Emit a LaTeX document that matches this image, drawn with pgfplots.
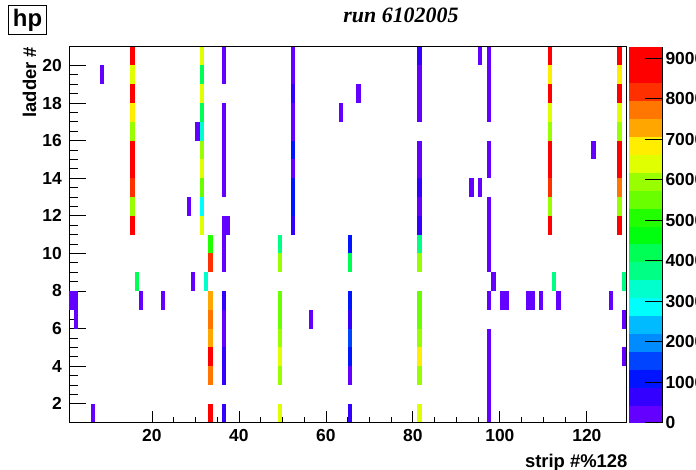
\documentclass[border=0pt]{standalone}
\usepackage{pgfplots}
\pgfplotsset{compat=1.18}
\usepackage{fontspec}
\setmainfont{Liberation Sans}
\newfontfamily\timesf{Liberation Serif}
\pgfdeclareplotmark{cell}{%
  \pgfpathrectanglecorners{\pgfplotspointaxisdirectionxy{-0.5}{-0.5}}{\pgfplotspointaxisdirectionxy{0.5}{0.5}}%
  \pgfusepathqfill}
\pgfplotsset{colormap={rootpretty}{
  rgb255=(99,0,255) rgb255=(51,0,255) rgb255=(0,20,255) rgb255=(0,68,255)
  rgb255=(0,139,255) rgb255=(0,187,255) rgb255=(0,255,252) rgb255=(0,255,204)
  rgb255=(0,255,133) rgb255=(0,255,85) rgb255=(0,255,14) rgb255=(34,255,0)
  rgb255=(105,255,0) rgb255=(153,255,0) rgb255=(224,255,0) rgb255=(255,238,0)
  rgb255=(255,167,0) rgb255=(255,119,0) rgb255=(255,48,0) rgb255=(255,0,0)
  rgb255=(255,0,0)}}
\pgfplotstableread{
x y z
15.5 20.5 9048
15.5 19.5 6264
15.5 18.5 9048
15.5 17.5 6728
15.5 16.5 5800
15.5 15.5 8584
15.5 14.5 9048
15.5 13.5 8120
15.5 12.5 5800
15.5 11.5 9048
31.5 20.5 6264
31.5 19.5 4408
31.5 18.5 6264
31.5 17.5 4408
31.5 16.5 3480
31.5 15.5 5800
31.5 14.5 6264
31.5 13.5 5336
31.5 12.5 3016
31.5 11.5 6264
111.5 20.5 9048
111.5 19.5 6728
111.5 18.5 9048
111.5 17.5 6264
111.5 16.5 5800
111.5 15.5 8584
111.5 14.5 9048
111.5 13.5 8120
111.5 12.5 5800
111.5 11.5 9048
127.5 20.5 9048
127.5 19.5 6728
127.5 18.5 9048
127.5 17.5 6264
127.5 16.5 5800
127.5 15.5 8584
127.5 14.5 9048
127.5 13.5 7656
127.5 12.5 5800
127.5 11.5 9048
33.5 10.5 4872
33.5 9.5 8120
33.5 7.5 7192
33.5 6.5 7656
33.5 5.5 7192
33.5 4.5 9048
33.5 3.5 7656
33.5 1.5 9048
49.5 10.5 3944
49.5 9.5 5800
49.5 7.5 5336
49.5 6.5 5336
49.5 5.5 5800
49.5 4.5 6264
49.5 3.5 5800
49.5 1.5 6264
65.5 10.5 1160
65.5 9.5 4408
65.5 7.5 1160
65.5 6.5 696
65.5 5.5 1624
65.5 4.5 1160
65.5 3.5 232
65.5 1.5 696
81.5 20.5 696
81.5 19.5 232
81.5 18.5 232
81.5 17.5 232
81.5 15.5 232
81.5 14.5 232
81.5 13.5 696
81.5 12.5 232
81.5 11.5 696
81.5 10.5 3944
81.5 9.5 5800
81.5 7.5 5336
81.5 6.5 5336
81.5 5.5 5800
81.5 4.5 6728
81.5 3.5 5800
81.5 1.5 6264
36.5 20.5 232
36.5 19.5 232
36.5 17.5 232
36.5 16.5 232
36.5 15.5 232
36.5 14.5 232
36.5 13.5 232
36.5 11.5 232
36.5 10.5 232
36.5 9.5 232
36.5 7.5 696
36.5 6.5 232
36.5 5.5 232
36.5 4.5 696
36.5 3.5 696
36.5 1.5 696
37.5 11.5 232
52.5 20.5 232
52.5 19.5 232
52.5 18.5 696
52.5 17.5 232
52.5 16.5 232
52.5 15.5 1160
52.5 14.5 232
52.5 13.5 1160
52.5 12.5 1160
52.5 11.5 696
97.5 20.5 232
97.5 19.5 232
97.5 18.5 232
97.5 17.5 232
97.5 15.5 232
97.5 14.5 232
97.5 12.5 232
97.5 11.5 232
97.5 10.5 232
97.5 9.5 232
97.5 7.5 232
97.5 5.5 232
97.5 4.5 232
97.5 3.5 232
97.5 2.5 232
97.5 1.5 232
8.5 19.5 232
30.5 16.5 232
28.5 12.5 232
29.5 8.5 232
17.5 7.5 232
22.5 7.5 232
1.5 7.5 232
2.5 7.5 232
2.5 6.5 232
6.5 1.5 232
63.5 17.5 232
67.5 18.5 232
56.5 6.5 232
95.5 20.5 232
93.5 13.5 232
95.5 13.5 232
121.5 15.5 232
98.5 8.5 232
100.5 7.5 232
101.5 7.5 232
106.5 7.5 232
107.5 7.5 232
109.5 7.5 232
113.5 7.5 232
125.5 7.5 232
128.5 6.5 232
128.5 4.5 232
16.5 8.5 4408
32.5 8.5 3480
112.5 8.5 3944
128.5 8.5 3944
}\cells
\begin{document}
\begin{tikzpicture}
\path[use as bounding box] (0bp,0bp) rectangle (696bp,470bp);
\node[draw, line width=1bp, minimum width=38bp, minimum height=29bp, inner sep=0pt, anchor=north west,
  font=\bfseries\fontsize{24}{24}\selectfont] at (8bp,465bp) {hp};
\node[font=\timesf\bfseries\itshape\fontsize{22}{22}\selectfont] at (401bp,455bp) {run 6102005};
\begin{axis}[
  at={(69.3bp,47.5bp)}, anchor=south west,
  scale only axis, width=556.7bp, height=375.8bp,
  xmin=1, xmax=129, ymin=1, ymax=21,
  xtick={20,40,...,120}, minor x tick num=3,
  ytick={2,4,...,20}, minor y tick num=3,
  tick pos=left, tick align=inside,
  xtick style={/pgfplots/major tick length=11.3bp,/pgfplots/minor tick length=5.6bp},
  ytick style={/pgfplots/major tick length=16.7bp,/pgfplots/minor tick length=8.4bp},
  every tick/.style={black, line width=0.8bp},
  axis line style={line width=1bp},
  tick label style={font=\bfseries\fontsize{17.5}{17.5}\selectfont},
  xticklabel style={yshift=-3bp},
  yticklabel style={xshift=-4bp},
  /pgf/number format/assume math mode=true,
  xlabel={strip \#\%128}, ylabel={ladder \#},
  label style={font=\bfseries\fontsize{18.5}{18.5}\selectfont},
  xlabel style={at={(axis description cs:1,0)}, anchor=north east, yshift=-28bp, xshift=5bp},
  ylabel style={at={(axis description cs:-0.0598,1)}, anchor=base east, inner sep=0pt},
  colormap name=rootpretty,
  colormap access=piecewise constant,
  point meta min=0, point meta max=9280,
  colorbar,
  colorbar style={
    at={(parent axis.north east)}, anchor=north west, xshift=-5.5bp,
    width=33bp, scale only axis,
    ytick={0,1000,...,9000},
    scaled y ticks=false,
    /pgf/number format/1000 sep={},
    /pgf/number format/assume math mode=true,
    axis y line*=right, axis x line=none,
    tick align=inside,
    major tick length=17bp,
    every tick/.style={black, line width=0.8bp},
    axis line style={black, line width=1bp},
    yticklabel style={font=\bfseries\fontsize{17.5}{17.5}\selectfont},
  },
]
\addplot[scatter, only marks, mark=cell, point meta=explicit,
  scatter/use mapped color={draw=mapped color, fill=mapped color}]
  table[x=x, y=y, meta=z] {\cells};
\end{axis}
\end{tikzpicture}
\end{document}
